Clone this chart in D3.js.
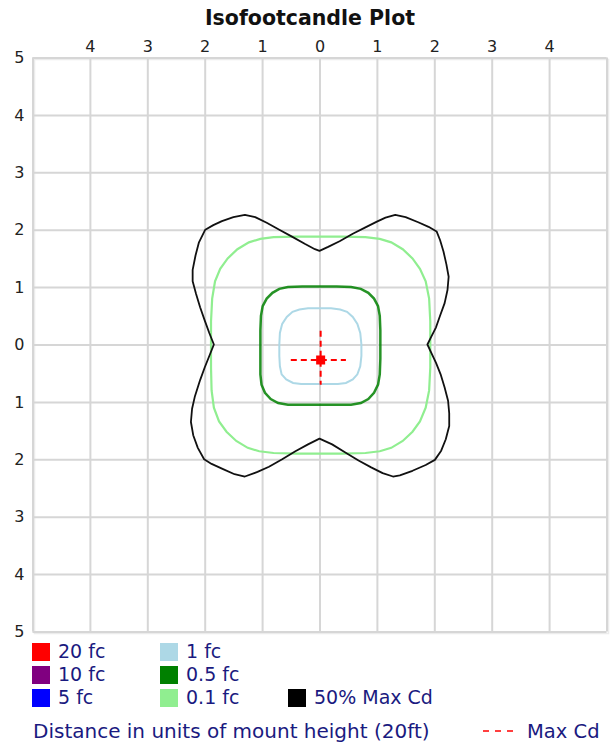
<!DOCTYPE html>
<html>
<head>
<meta charset="utf-8">
<script src="https://cdn.jsdelivr.net/npm/d3@7"></script>
<style>
  html, body { margin: 0; padding: 0; background: #fff; }
  svg { display: block; }
  text { font-family: "DejaVu Sans", sans-serif; }
</style>
</head>
<body>
<svg id="chart" width="613" height="745"></svg>
<script>
// ---------------- data ----------------
const titleText = "Isofootcandle Plot";
const topTickValues = [-4, -3, -2, -1, 0, 1, 2, 3, 4];
const leftTickValues = [5, 4, 3, 2, 1, 0, -1, -2, -3, -4, -5];
const gridValues = [-5, -4, -3, -2, -1, 0, 1, 2, 3, 4, 5];

// 50% Max Cd contour (units of mount height)
const contourMaxCd50 = [
  [0.00,1.63],[0.15,1.70],[0.35,1.80],[0.58,1.93],[0.80,2.04],[1.00,2.14],[1.15,2.21],[1.32,2.26],
  [1.50,2.22],[1.72,2.13],[1.90,2.05],[2.04,1.97],[2.10,1.82],[2.16,1.62],[2.21,1.40],[2.25,1.18],
  [2.23,0.95],[2.18,0.72],[2.10,0.50],[2.03,0.30],[1.95,0.14],[1.88,0.00],
  [1.95,-0.15],[2.03,-0.32],[2.11,-0.52],[2.18,-0.75],[2.24,-0.98],[2.26,-1.20],[2.26,-1.42],
  [2.20,-1.65],[2.12,-1.85],[2.01,-2.01],[1.85,-2.10],[1.62,-2.20],[1.40,-2.28],[1.28,-2.30],
  [1.10,-2.24],[0.90,-2.14],[0.68,-2.02],[0.45,-1.88],[0.22,-1.74],[0.00,-1.64],
  [-0.20,-1.74],[-0.42,-1.86],[-0.65,-2.00],[-0.88,-2.13],[-1.08,-2.22],[-1.30,-2.30],[-1.48,-2.26],
  [-1.68,-2.17],[-1.88,-2.08],[-2.01,-2.00],[-2.12,-1.80],[-2.20,-1.58],[-2.24,-1.35],[-2.22,-1.12],
  [-2.17,-0.90],[-2.08,-0.62],[-2.00,-0.40],[-1.92,-0.20],[-1.84,0.00],
  [-1.92,0.20],[-2.00,0.42],[-2.08,0.65],[-2.15,0.88],[-2.21,1.10],[-2.21,1.30],[-2.16,1.55],
  [-2.10,1.78],[-1.99,2.00],[-1.85,2.08],[-1.70,2.15],[-1.50,2.22],[-1.30,2.26],[-1.12,2.22],
  [-0.92,2.12],[-0.70,2.00],[-0.48,1.88],[-0.25,1.75],[-0.08,1.66]
];

// 0.1 fc contour
const contour01fc = [
  [0.00,1.88],[0.40,1.88],[0.80,1.87],[1.05,1.84],[1.25,1.78],[1.45,1.66],[1.62,1.50],[1.75,1.32],
  [1.85,1.10],[1.91,0.80],[1.93,0.40],[1.93,0.00],[1.93,-0.40],[1.91,-0.80],[1.85,-1.10],[1.75,-1.34],
  [1.62,-1.52],[1.45,-1.68],[1.25,-1.80],[1.05,-1.86],[0.80,-1.89],[0.40,-1.90],[0.00,-1.90],
  [-0.40,-1.90],[-0.80,-1.89],[-1.05,-1.86],[-1.25,-1.80],[-1.45,-1.68],[-1.62,-1.52],[-1.75,-1.34],
  [-1.84,-1.10],[-1.88,-0.80],[-1.89,-0.40],[-1.89,0.00],[-1.89,0.40],[-1.87,0.80],[-1.82,1.10],
  [-1.73,1.32],[-1.60,1.50],[-1.43,1.66],[-1.23,1.78],[-1.03,1.84],[-0.80,1.87],[-0.40,1.88]
];

// 0.5 fc contour
const contour05fc = [
  [0.00,1.01],[0.30,1.01],[0.55,1.00],[0.72,0.97],[0.85,0.90],[0.95,0.80],[1.02,0.67],[1.05,0.50],
  [1.06,0.25],[1.06,0.00],[1.06,-0.25],[1.05,-0.52],[1.02,-0.70],[0.95,-0.84],[0.85,-0.95],
  [0.72,-1.02],[0.55,-1.05],[0.30,-1.05],[0.00,-1.05],[-0.30,-1.05],[-0.55,-1.05],[-0.72,-1.02],
  [-0.85,-0.95],[-0.95,-0.84],[-1.01,-0.70],[-1.03,-0.52],[-1.03,-0.25],[-1.03,0.00],[-1.03,0.25],
  [-1.02,0.50],[-0.99,0.67],[-0.92,0.80],[-0.82,0.90],[-0.70,0.97],[-0.55,1.00],[-0.30,1.01]
];

// 1 fc contour
const contour1fc = [
  [0.00,0.63],[0.20,0.63],[0.36,0.61],[0.48,0.57],[0.58,0.48],[0.66,0.36],[0.71,0.20],[0.73,0.00],
  [0.73,-0.20],[0.71,-0.38],[0.66,-0.52],[0.58,-0.61],[0.46,-0.67],[0.32,-0.69],[0.15,-0.69],
  [0.00,-0.69],[-0.15,-0.69],[-0.32,-0.69],[-0.46,-0.67],[-0.58,-0.61],[-0.66,-0.52],[-0.69,-0.38],
  [-0.70,-0.20],[-0.70,0.00],[-0.69,0.20],[-0.65,0.36],[-0.57,0.48],[-0.47,0.57],[-0.35,0.61],[-0.20,0.63]
];

// Max Cd marker
const maxCdPoint = [0.02, -0.27];
const maxCdHorizontal = [[-0.50, -0.27], [0.46, -0.27]];
const maxCdVertical = [[0.02, 0.24], [0.02, -0.70]];

// legend
const legendLabels = ["20 fc", "10 fc", "5 fc", "1 fc", "0.5 fc", "0.1 fc", "50% Max Cd"];
const legendColors = ["#ff0000", "#800080", "#0000ff", "#add8e6", "#008000", "#90ee90", "#000000"];
const legendCols = [0, 0, 0, 1, 1, 1, 2];
const legendRows = [0, 1, 2, 0, 1, 2, 2];
const footerText = "Distance in units of mount height (20ft)";
const maxCdLabel = "Max Cd";

// ---------------- drawing ----------------
const svg = d3.select("#chart");
const plot = { left: 32.5, right: 606.5, top: 57.5, bottom: 631.5 };

const x = d3.scaleLinear().domain([-5, 5]).range([plot.left, plot.right]);
const y = d3.scaleLinear().domain([-5, 5]).range([plot.bottom, plot.top]);

// title
svg.append("text")
  .attr("x", 310).attr("y", 25)
  .attr("text-anchor", "middle")
  .attr("font-size", 20.5).attr("font-weight", "bold")
  .attr("fill", "#111")
  .text(titleText);

// border shadow
svg.append("rect")
  .attr("x", plot.left + 2).attr("y", plot.top + 2)
  .attr("width", plot.right - plot.left).attr("height", plot.bottom - plot.top)
  .attr("fill", "none").attr("stroke", "#ececec").attr("stroke-width", 1.5);

// grid
const gridG = svg.append("g");
gridG.append("g").attr("transform", `translate(0,${plot.bottom})`)
  .call(d3.axisBottom(x).tickValues(gridValues).tickSize(-(plot.bottom - plot.top)).tickFormat(""))
  .call(g => g.select(".domain").remove())
  .call(g => g.selectAll("line").attr("stroke", "#d6d6d6").attr("stroke-width", 2));
gridG.append("g").attr("transform", `translate(${plot.left},0)`)
  .call(d3.axisLeft(y).tickValues(gridValues).tickSize(-(plot.right - plot.left)).tickFormat(""))
  .call(g => g.select(".domain").remove())
  .call(g => g.selectAll("line").attr("stroke", "#d6d6d6").attr("stroke-width", 2));

// axes labels
const fmt = d => String(Math.abs(d));
svg.append("g").attr("transform", `translate(0,${plot.top - 6})`)
  .call(d3.axisTop(x).tickValues(topTickValues).tickSize(0).tickPadding(0).tickFormat(fmt))
  .call(g => g.select(".domain").remove())
  .call(g => g.selectAll("text").attr("font-size", 16).attr("fill", "#222")
    .attr("font-family", '"DejaVu Sans", sans-serif'));
svg.append("g").attr("transform", `translate(${plot.left - 8},0)`)
  .call(d3.axisLeft(y).tickValues(leftTickValues).tickSize(0).tickPadding(0).tickFormat(fmt))
  .call(g => g.select(".domain").remove())
  .call(g => g.selectAll("text").attr("font-size", 16).attr("fill", "#222")
    .attr("font-family", '"DejaVu Sans", sans-serif'));

// contours
const line = d3.line().x(d => x(d[0])).y(d => y(d[1])).curve(d3.curveLinearClosed);
const lineOpen = d3.line().x(d => x(d[0])).y(d => y(d[1]));

const contourG = svg.append("g").attr("fill", "none");
contourG.append("path").attr("d", line(contour01fc)).attr("stroke", "#90ee90").attr("stroke-width", 2.2);
contourG.append("path").attr("d", line(contour05fc)).attr("stroke", "#008000").attr("stroke-width", 2.5).attr("stroke-opacity", 0.85);
contourG.append("path").attr("d", line(contour1fc)).attr("stroke", "#add8e6").attr("stroke-width", 2);
contourG.append("path").attr("d", line(contourMaxCd50)).attr("stroke", "#111").attr("stroke-width", 1.8).attr("stroke-linejoin", "round");

// Max Cd marker
contourG.append("path").attr("d", lineOpen(maxCdHorizontal)).attr("stroke", "#ff0000").attr("stroke-width", 2).attr("stroke-dasharray", "6,4");
contourG.append("path").attr("d", lineOpen(maxCdVertical)).attr("stroke", "#ff0000").attr("stroke-width", 2).attr("stroke-dasharray", "6,4");
svg.append("rect")
  .attr("x", x(maxCdPoint[0]) - 4.5).attr("y", y(maxCdPoint[1]) - 4.5)
  .attr("width", 9).attr("height", 9).attr("fill", "#ff0000");

// legend
const colX = [32, 160, 288];
const rowY = [643, 666, 689];
const legend = svg.append("g");
legendLabels.forEach((lab, i) => {
  const g = legend.append("g").attr("transform", `translate(${colX[legendCols[i]]},${rowY[legendRows[i]]})`);
  g.append("rect").attr("width", 18).attr("height", 18).attr("fill", legendColors[i]);
  g.append("text").attr("x", 26).attr("y", 15).attr("font-size", 19).attr("fill", "#1a1a80").text(lab);
});
svg.append("text").attr("x", 33).attr("y", 738).attr("font-size", 20).attr("fill", "#1a1a80").text(footerText);
svg.append("line").attr("x1", 483).attr("x2", 517).attr("y1", 731).attr("y2", 731)
  .attr("stroke", "#ff0000").attr("stroke-width", 1.5).attr("stroke-dasharray", "6,6");
svg.append("text").attr("x", 527).attr("y", 738).attr("font-size", 19.5).attr("fill", "#1a1a80").text(maxCdLabel);
</script>
</body>
</html>
